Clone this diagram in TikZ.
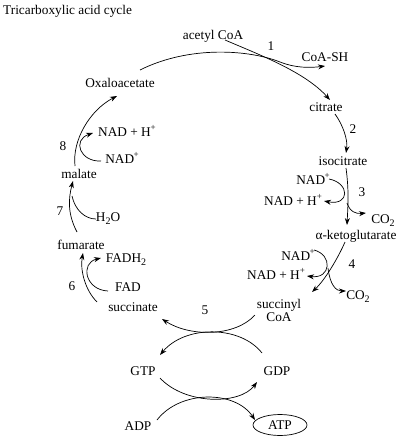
\documentclass[tikz,border=0pt]{standalone}
\usepackage{fontspec}
\setmainfont{Liberation Serif}
\usetikzlibrary{arrows.meta,shapes.geometric}
\newcommand{\nadp}{NAD\kern-0.5pt\raisebox{5.5pt}{\fontsize{9}{9}\selectfont +}}
\newcommand{\hp}{H\raisebox{5.5pt}{\fontsize{9}{9}\selectfont +}}
\newcommand{\sbt}[1]{\raisebox{-3pt}{\fontsize{10}{10}\selectfont #1}}
\begin{document}
\begin{tikzpicture}[x=1pt,y=-1pt,
  every node/.style={font=\fontsize{13.3}{15}\selectfont, inner sep=1pt},
  arr/.style={line width=0.7pt,-{Stealth[length=7pt,width=5pt]}},
  ln/.style={line width=0.7pt},
  atpbox/.style={draw,ellipse,line width=0.7pt,minimum width=54pt,minimum height=21pt,inner sep=0pt}]
\useasboundingbox (0,0) rectangle (400,447);
\fill[white] (0,0) rectangle (400,447);
\node[anchor=west] (title) at (2,11) {Tricarboxylic acid cycle};
\node (acetyl) at (213,36) {acetyl CoA};
\node (n1) at (271,46) {1};
\node (coash) at (325,57) {CoA-SH};
\node (oxa) at (120,83) {Oxaloacetate};
\node (citrate) at (326,107) {citrate};
\node (n2) at (353,129) {2};
\node (isocit) at (343,161) {isocitrate};
\node (nad3) at (313,179) {\nadp};
\node (n3) at (362,192) {3};
\node (nadh3) at (293,200) {NAD + \hp};
\node (co23) at (383,221) {CO\sbt{2}};
\node (akg) at (356,236) {α-ketoglutarate};
\node (nad4) at (298,255) {\nadp};
\node (n4) at (352,264) {4};
\node (nadh4) at (276,274) {NAD + \hp};
\node (co24) at (358,297) {CO\sbt{2}};
\node[align=center] (succoa) at (279,310) {succinyl\\[-2pt]CoA};
\node (n5) at (205,310) {5};
\node (succ) at (133,307) {succinate};
\node (fad) at (128,287) {FAD};
\node (n6) at (72,286) {6};
\node (fadh2) at (126,260) {FADH\sbt{2}};
\node (fum) at (81,245) {fumarate};
\node (h2o) at (108,219) {H\sbt{2}O};
\node (n7) at (60,211) {7};
\node (mal) at (79,174) {malate};
\node (nad8) at (122,158) {\nadp};
\node (n8) at (63,146) {8};
\node (nadh8) at (127,131) {NAD + \hp};
\node (gtp) at (143,371) {GTP};
\node (gdp) at (277,371) {GDP};
\node (adp) at (138,426) {ADP};
\node[atpbox] (atp) at (280,425) {ATP};
% coordinates
\coordinate (c1a) at (140,70);
\coordinate (c1b) at (225,40);
\coordinate (c1c) at (325,66);
\coordinate (c1d) at (330,100);
% step 1
\draw[arr] (c1a) .. controls (190,45) and (250,50) .. (280,62) .. controls (295,68) and (310,68) .. (c1c);
\draw[arr] (c1b) .. controls (260,55) and (305,72) .. (c1d);
% step 2
\coordinate (c2a) at (335,114);
\coordinate (c2b) at (346,153);
\draw[arr] (c2a) .. controls (343,125) and (348,140) .. (c2b);
% step 3
\coordinate (c3a) at (346,168);
\coordinate (c3b) at (347,225);
\draw[arr] (c3a) .. controls (349,190) and (348,205) .. (c3b);
\coordinate (c3c) at (329,179);
\coordinate (c3d) at (324,201);
\draw[arr] (c3c) .. controls (350,183) and (350,206) .. (c3d);
\coordinate (c3e) at (347,203);
\coordinate (c3f) at (366,213);
\draw[arr] (c3e) .. controls (350,212) and (356,214) .. (c3f);
% step 4
\coordinate (c4a) at (345,242);
\coordinate (c4b) at (312,292);
\draw[arr] (c4a) .. controls (338,258) and (325,280) .. (c4b);
\coordinate (c4c) at (314,250);
\coordinate (c4d) at (307,276);
\draw[arr] (c4c) .. controls (333,255) and (331,279) .. (c4d);
\coordinate (c4e) at (328,268);
\coordinate (c4f) at (346,291);
\draw[arr] (c4e) .. controls (330,285) and (336,291) .. (c4f);
% step 5
\coordinate (c5a) at (255,315);
\coordinate (c5b) at (162,319);
\draw[arr] (c5a) .. controls (235,337) and (190,337) .. (c5b);
\coordinate (c5c) at (262,353);
\coordinate (c5d) at (160,355);
\draw[arr] (c5c) .. controls (240,325) and (185,325) .. (c5d);
\coordinate (c5e) at (160,378);
\coordinate (c5f) at (257,382);
\draw[arr] (c5e) .. controls (185,405) and (240,405) .. (c5f);
\coordinate (c5g) at (157,420);
\coordinate (c5h) at (255,420);
\draw[arr] (c5g) .. controls (180,390) and (235,390) .. (c5h);
% step 6
\coordinate (c6a) at (97,302);
\coordinate (c6b) at (83,253);
\draw[arr] (c6a) .. controls (85,290) and (80,270) .. (c6b);
\coordinate (c6c) at (108,291);
\coordinate (c6d) at (101,258);
\draw[arr] (c6c) .. controls (85,290) and (80,263) .. (c6d);
% step 7
\coordinate (c7a) at (77,232);
\coordinate (c7b) at (73,181);
\draw[arr] (c7a) .. controls (68,215) and (68,200) .. (c7b);
\coordinate (c7c) at (96,219);
\coordinate (c7d) at (72,196);
\draw[ln] (c7c) .. controls (85,219) and (75,210) .. (c7d);
% step 8
\coordinate (c8a) at (75,166);
\coordinate (c8b) at (117,96);
\draw[arr] (c8a) .. controls (72,140) and (90,110) .. (c8b);
\coordinate (c8c) at (101,161);
\coordinate (c8d) at (93,133);
\draw[arr] (c8c) .. controls (80,162) and (72,140) .. (c8d);
\end{tikzpicture}
\end{document}
